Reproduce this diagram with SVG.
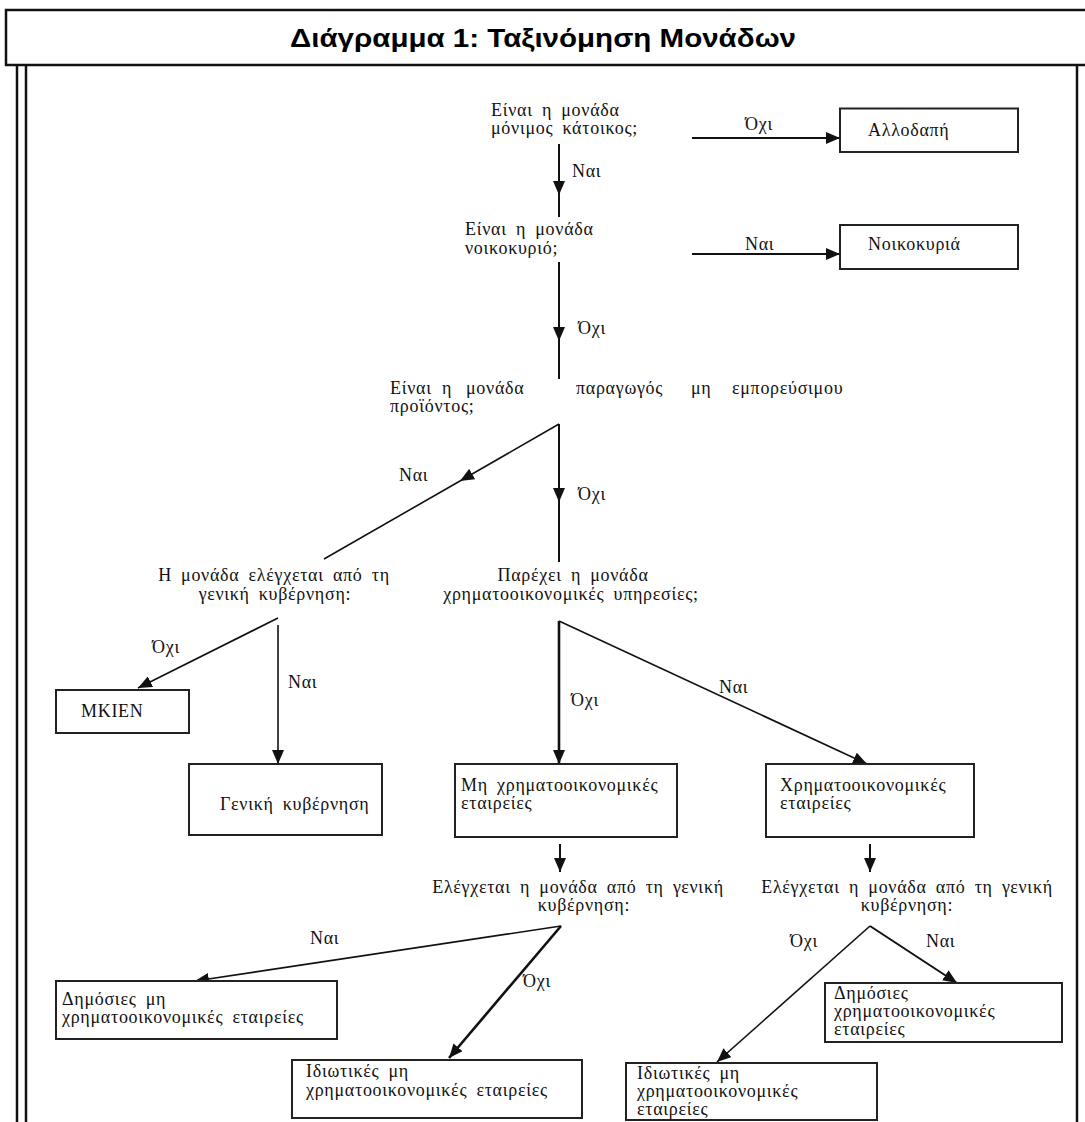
<svg xmlns="http://www.w3.org/2000/svg" width="1085" height="1122" viewBox="0 0 1085 1122">
<style>
.frame{fill:none;stroke:#111;stroke-width:2.5}
.box rect{fill:#fff;stroke:#222;stroke-width:2}
.t{font-family:"Liberation Serif","DejaVu Serif",serif;font-size:18px;letter-spacing:0.7px;word-spacing:4px;fill:#111}
.title{font-family:"Liberation Sans","Open Sans",sans-serif;font-size:25px;font-weight:bold;fill:#000}
.c{fill:none;stroke:#111;stroke-width:2}
.thin{stroke-width:1.6}
.thick{stroke-width:2.6}
</style>
<defs>
<marker id="ah" markerUnits="userSpaceOnUse" markerWidth="14" markerHeight="12" refX="14" refY="6" orient="auto">
<path d="M0,0 L14,6 L0,12 z" fill="#111"/>
</marker>
</defs>
<rect width="1085" height="1122" fill="#fff"/>

<g id="frame">
<rect class="frame" x="6" y="10" width="1090" height="55"/>
<line class="frame" x1="17" y1="65" x2="17" y2="1122" stroke-width="2"/>
<line class="frame" x1="26" y1="65" x2="26" y2="1122" stroke-width="2"/>
<line class="frame" x1="1077" y1="65" x2="1077" y2="1122" stroke-width="2"/>
<text class="title" x="543" y="47" text-anchor="middle" textLength="506" lengthAdjust="spacingAndGlyphs">Διάγραμμα 1: Ταξινόμηση Μονάδων</text>
</g>

<g id="connectors">
<path class="c" d="M559,144 L559,195 L559,217" marker-mid="url(#ah)"/>
<path class="c" d="M692,138 L840,138" marker-end="url(#ah)"/>
<path class="c" d="M692,254 L840,254" marker-end="url(#ah)"/>
<path class="c" d="M559,262 L559,341 L559,379" marker-mid="url(#ah)"/>
<path class="c thin" d="M559,424 L460,481 L324,559" marker-mid="url(#ah)"/>
<path class="c" d="M559,424 L559,502 L559,562" marker-mid="url(#ah)"/>
<path class="c thin" d="M278,618 L138,688" marker-end="url(#ah)"/>
<path class="c thin" d="M278,625 L278,764" marker-end="url(#ah)"/>
<path class="c thick" d="M559,621 L559,764" marker-end="url(#ah)"/>
<path class="c thin" d="M559,621 L867,764" marker-end="url(#ah)"/>
<path class="c" d="M560,844 L560,872" marker-end="url(#ah)"/>
<path class="c" d="M870,844 L870,872" marker-end="url(#ah)"/>
<path class="c thin" d="M561,926 L195,981" marker-end="url(#ah)"/>
<path class="c thick" d="M561,926 L449,1058" marker-end="url(#ah)"/>
<path class="c" d="M870,926 L957,983" marker-end="url(#ah)"/>
<path class="c thin" d="M870,926 L717,1062" marker-end="url(#ah)"/>
<text class="t" x="572" y="177">Ναι</text>
<text class="t" x="745" y="130">Όχι</text>
<text class="t" x="745" y="250">Ναι</text>
<text class="t" x="578" y="334">Όχι</text>
<text class="t" x="399" y="481">Ναι</text>
<text class="t" x="578" y="500">Όχι</text>
<text class="t" x="152" y="653">Όχι</text>
<text class="t" x="288" y="688">Ναι</text>
<text class="t" x="719" y="693">Ναι</text>
<text class="t" x="571" y="706">Όχι</text>
<text class="t" x="310" y="944">Ναι</text>
<text class="t" x="523" y="987">Όχι</text>
<text class="t" x="790" y="947">Όχι</text>
<text class="t" x="926" y="947">Ναι</text>
</g>

<g id="q1">
<text class="t" x="491" y="116">Είναι η μονάδα</text>
<text class="t" x="491" y="134">μόνιμος κάτοικος;</text>
</g>
<g id="q2">
<text class="t" x="465" y="235">Είναι η μονάδα</text>
<text class="t" x="465" y="254">νοικοκυριό;</text>
</g>
<g id="q3">
<text class="t" y="394"><tspan x="390">Είναι</tspan><tspan x="442">η</tspan><tspan x="466">μονάδα</tspan><tspan x="576">παραγωγός</tspan><tspan x="691">μη</tspan><tspan x="732">εμπορεύσιμου</tspan></text>
<text class="t" x="390" y="412">προϊόντος;</text>
</g>
<g id="q4">
<text class="t" x="274" y="581" text-anchor="middle">Η μονάδα ελέγχεται από τη</text>
<text class="t" x="275" y="600" text-anchor="middle">γενική κυβέρνηση:</text>
</g>
<g id="q5">
<text class="t" x="573" y="581" text-anchor="middle">Παρέχει η μονάδα</text>
<text class="t" x="571" y="600" text-anchor="middle">χρηματοοικονομικές υπηρεσίες;</text>
</g>
<g id="q6">
<text class="t" x="578" y="893" text-anchor="middle">Ελέγχεται η μονάδα από τη γενική</text>
<text class="t" x="584" y="911" text-anchor="middle">κυβέρνηση:</text>
</g>
<g id="q7">
<text class="t" x="907" y="893" text-anchor="middle">Ελέγχεται η μονάδα από τη γενική</text>
<text class="t" x="907" y="911" text-anchor="middle">κυβέρνηση:</text>
</g>

<g id="n-allodapi" class="box">
<rect x="840" y="108.5" width="178" height="43.5"/>
<text class="t" x="868" y="136">Αλλοδαπή</text>
</g>
<g id="n-noikokyria" class="box">
<rect x="840" y="225" width="178" height="44"/>
<text class="t" x="868" y="250">Νοικοκυριά</text>
</g>
<g id="n-mkien" class="box">
<rect x="56" y="690" width="133" height="43"/>
<text class="t" x="81" y="717">MKIEN</text>
</g>
<g id="n-geniki" class="box">
<rect x="189" y="764" width="193" height="71"/>
<text class="t" x="220" y="810">Γενική κυβέρνηση</text>
</g>
<g id="n-mi-xrim" class="box">
<rect x="455" y="764" width="222" height="73"/>
<text class="t" x="461" y="791">Μη χρηματοοικονομικές</text>
<text class="t" x="461" y="809">εταιρείες</text>
</g>
<g id="n-xrim" class="box">
<rect x="766" y="764" width="208" height="73"/>
<text class="t" x="780" y="791">Χρηματοοικονομικές</text>
<text class="t" x="780" y="809">εταιρείες</text>
</g>
<g id="n-dimosies-mi" class="box">
<rect x="56" y="981" width="281" height="58"/>
<text class="t" x="62" y="1005">Δημόσιες μη</text>
<text class="t" x="62" y="1023">χρηματοοικονομικές εταιρείες</text>
</g>
<g id="n-idiotikes-mi" class="box">
<rect x="292" y="1060" width="290" height="58"/>
<text class="t" x="306" y="1077">Ιδιωτικές μη</text>
<text class="t" x="306" y="1096">χρηματοοικονομικές εταιρείες</text>
</g>
<g id="n-dimosies-xrim" class="box">
<rect x="825" y="983" width="237" height="59"/>
<text class="t" x="834" y="999">Δημόσιες</text>
<text class="t" x="834" y="1017">χρηματοοικονομικές</text>
<text class="t" x="834" y="1035">εταιρείες</text>
</g>
<g id="n-idiotikes-xrim" class="box">
<rect x="626" y="1063" width="251" height="57"/>
<text class="t" x="637" y="1079">Ιδιωτικές μη</text>
<text class="t" x="637" y="1097">χρηματοοικονομικές</text>
<text class="t" x="637" y="1115">εταιρείες</text>
</g>
</svg>
